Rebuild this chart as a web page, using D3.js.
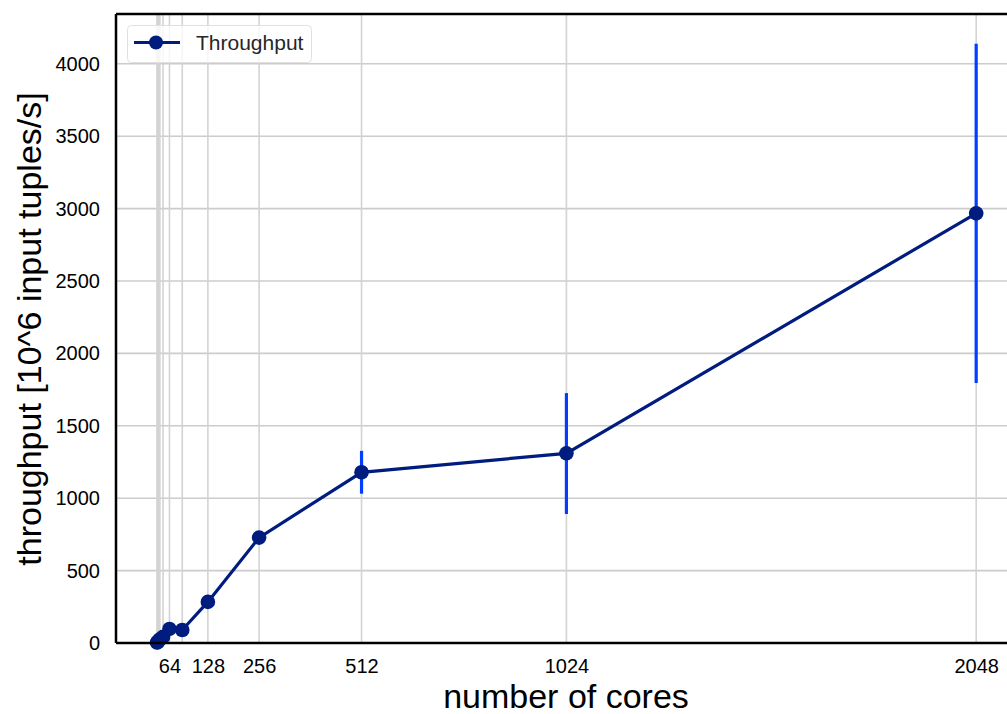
<!DOCTYPE html>
<html>
<head>
<script src="https://d3js.org/d3.v7.min.js"></script>
<style>
  body { margin: 0; background: #fff; }
  text { font-family: "Liberation Sans", Arial, sans-serif; }
</style>
</head>
<body>
<div id="chart"></div>
<script>
// data
const cores = [1, 2, 4, 8, 16, 32, 64, 128, 256, 512, 1024, 2048];
const throughput = [3, 6, 12, 25, 42, 97, 90, 284, 728, 1179, 1310, 2967];
const errLow = [3, 6, 12, 25, 42, 97, 90, 284, 728, 1031, 891, 1795];
const errHigh = [3, 6, 12, 25, 42, 97, 90, 284, 728, 1327, 1726, 4139];
const xTickValues = [32, 128, 256, 512, 1024, 2048];
const xTickLabels = ["64", "128", "256", "512", "1024", "2048"];
const yTicks = [0, 500, 1000, 1500, 2000, 2500, 3000, 3500, 4000];

const W = 1007, H = 714;
const plotLeft = 116, plotTop = 14, plotRight = 1017, plotBottom = 643;

const svg = d3.select("#chart").append("svg")
    .attr("width", W).attr("height", H);

const x = d3.scaleLinear().domain([-101.6, 2150]).range([plotLeft, plotRight]);
const y = d3.scaleLinear().domain([0, 4344]).range([plotBottom, plotTop]);

// horizontal grid
svg.append("g").selectAll("line").data(yTicks).enter().append("line")
    .attr("x1", plotLeft).attr("x2", plotRight)
    .attr("y1", d => y(d)).attr("y2", d => y(d))
    .attr("stroke", "#cccccc").attr("stroke-width", 1.6);

// vertical lines at each core count
svg.append("g").selectAll("line").data(cores).enter().append("line")
    .attr("x1", d => x(d)).attr("x2", d => x(d))
    .attr("y1", plotTop).attr("y2", plotBottom)
    .attr("stroke", "#d3d3d3").attr("stroke-width", 1.6);

// error bars
const pts = cores.map((c, i) => ({ c, v: throughput[i], lo: errLow[i], hi: errHigh[i] }));
svg.append("g").selectAll("line").data(pts).enter().append("line")
    .attr("x1", d => x(d.c)).attr("x2", d => x(d.c))
    .attr("y1", d => y(d.lo)).attr("y2", d => y(d.hi))
    .attr("stroke", "#023eff").attr("stroke-width", 3.2);

// line + markers
const line = d3.line().x(d => x(d.c)).y(d => y(d.v));
svg.append("path").datum(pts)
    .attr("d", line).attr("fill", "none")
    .attr("stroke", "#001c7f").attr("stroke-width", 3.2);
svg.append("g").selectAll("circle").data(pts).enter().append("circle")
    .attr("cx", d => x(d.c)).attr("cy", d => y(d.v)).attr("r", 7.3)
    .attr("fill", "#001c7f");

// axes
const xAxis = d3.axisBottom(x).tickValues(xTickValues)
    .tickFormat((d, i) => xTickLabels[i]).tickSize(0).tickPadding(16);
const gx = svg.append("g").attr("transform", `translate(0,${plotBottom})`).call(xAxis)
    .attr("font-size", 20).attr("font-family", "Liberation Sans, Arial, sans-serif");
gx.select(".domain").remove();
gx.selectAll("text").attr("fill", "#000");

const yAxis = d3.axisLeft(y).tickValues(yTicks).tickFormat(d3.format("d"))
    .tickSize(0).tickPadding(16);
const gy = svg.append("g").attr("transform", `translate(${plotLeft},0)`).call(yAxis)
    .attr("font-size", 20).attr("font-family", "Liberation Sans, Arial, sans-serif");
gy.select(".domain").remove();
gy.selectAll("text").attr("fill", "#000");

// spines
svg.append("line").attr("x1", plotLeft).attr("x2", plotRight).attr("y1", plotTop).attr("y2", plotTop)
    .attr("stroke", "#000").attr("stroke-width", 2.5);
svg.append("line").attr("x1", plotLeft).attr("x2", plotRight).attr("y1", plotBottom).attr("y2", plotBottom)
    .attr("stroke", "#000").attr("stroke-width", 2.5);
svg.append("line").attr("x1", plotLeft).attr("x2", plotLeft).attr("y1", plotTop).attr("y2", plotBottom)
    .attr("stroke", "#000").attr("stroke-width", 2.5);

// axis labels
svg.append("text").attr("x", 566).attr("y", 708)
    .attr("text-anchor", "middle").attr("font-size", 34).text("number of cores");
svg.append("text").attr("transform", "translate(41,329) rotate(-90)")
    .attr("text-anchor", "middle").attr("font-size", 34).text("throughput [10^6 input tuples/s]");

// legend
const lg = svg.append("g");
lg.append("rect").attr("x", 127.5).attr("y", 25.5).attr("width", 184).attr("height", 37)
    .attr("rx", 4).attr("fill", "#fff").attr("fill-opacity", 0.8)
    .attr("stroke", "#e0e0e0").attr("stroke-width", 1);
lg.append("line").attr("x1", 134).attr("x2", 180).attr("y1", 42.5).attr("y2", 42.5)
    .attr("stroke", "#001c7f").attr("stroke-width", 3.2);
lg.append("circle").attr("cx", 156).attr("cy", 42.5).attr("r", 7).attr("fill", "#001c7f");
lg.append("text").attr("x", 196).attr("y", 49.5).attr("font-size", 21)
    .attr("fill", "#262626").text("Throughput");
</script>
</body>
</html>
